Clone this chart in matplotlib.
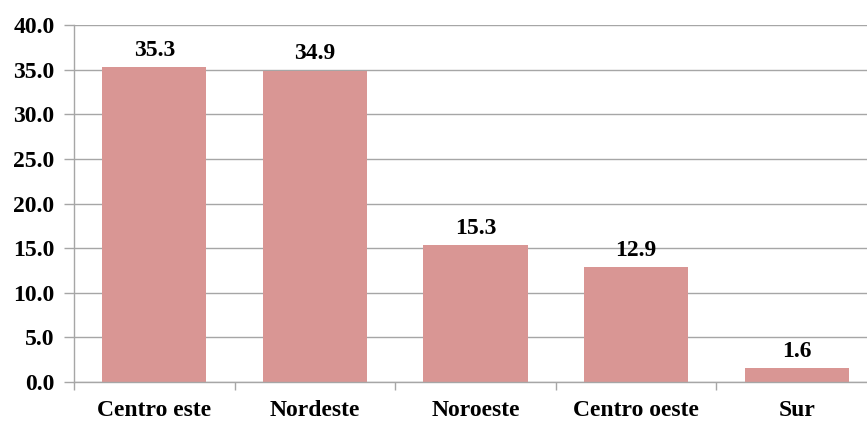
import matplotlib
matplotlib.use("Agg")
import matplotlib.pyplot as plt
from matplotlib.ticker import FormatStrFormatter, MultipleLocator, FixedLocator

regions = ["Centro este", "Nordeste", "Noroeste", "Centro oeste", "Sur"]
values = [35.3, 34.9, 15.3, 12.9, 1.6]

plt.rcParams["font.family"] = ["Liberation Serif", "DejaVu Serif"]
plt.rcParams["font.weight"] = "bold"

W, H = 867, 422
fig = plt.figure(figsize=(W / 100, H / 100), dpi=100)
left, right = 74 / W, 877 / W
bottom, top = (H - 382) / H, (H - 25) / H
ax = fig.add_axes([left, bottom, right - left, top - bottom])

bar_color = "#D99694"
grid_color = "#A6A6A6"
fs = 17

x = list(range(len(regions)))
ax.bar(x, values, width=0.65, color=bar_color, zorder=2)

for xi, v in zip(x, values):
    ax.annotate(f"{v:.1f}", (xi, v), xytext=(0, 8), textcoords="offset points",
                ha="center", va="baseline", fontsize=fs, fontweight="bold")

ax.set_xlim(-0.5, len(regions) - 0.5)
ax.set_ylim(0, 40)
ax.yaxis.set_major_locator(MultipleLocator(5))
ax.yaxis.set_major_formatter(FormatStrFormatter("%.1f"))
ax.grid(axis="y", color=grid_color, linewidth=1, zorder=0)

ax.set_xticks(x)
ax.set_xticklabels(regions, fontsize=fs, fontweight="bold")
ax.xaxis.set_minor_locator(FixedLocator([i - 0.5 for i in range(len(regions) + 1)]))
ax.tick_params(axis="x", which="major", length=0, pad=13)
ax.tick_params(axis="x", which="minor", length=6, color=grid_color, width=1)
ax.tick_params(axis="y", length=7, color=grid_color, width=1, pad=7, labelsize=fs)
for lbl in ax.get_yticklabels():
    lbl.set_fontweight("bold")

for side in ("top", "right"):
    ax.spines[side].set_visible(False)
for side in ("left", "bottom"):
    ax.spines[side].set_color(grid_color)
    ax.spines[side].set_linewidth(1)

fig.savefig("out.png", dpi=100)
